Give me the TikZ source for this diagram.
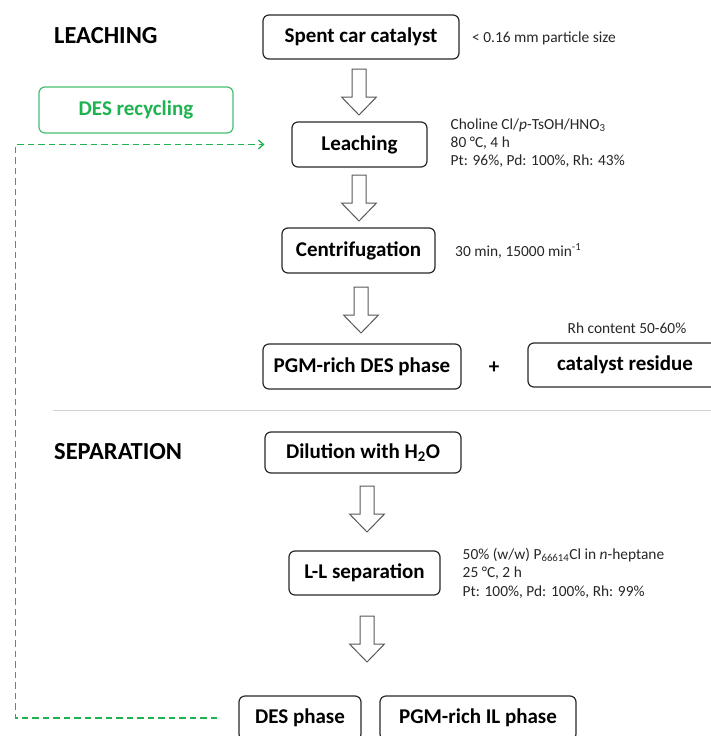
\documentclass[tikz,border=0pt]{standalone}
\usepackage{fontspec}
\setmainfont{Carlito}
\usetikzlibrary{arrows.meta,calc}

\definecolor{desgreen}{RGB}{30,178,80}
\definecolor{desframe}{RGB}{70,190,110}
\definecolor{inkgray}{RGB}{40,40,40}

\begin{document}
\begin{tikzpicture}[x=1pt,y=-1pt,
  stepbox/.style={draw=inkgray, line width=1.2pt, rounded corners=6pt,
    inner sep=0pt, text=black, font=\fontsize{21}{25}\selectfont\bfseries},
  greenbox/.style={stepbox, draw=desframe, text=desgreen},
  heading/.style={anchor=west, inner sep=0pt, font=\fontsize{24.5}{28}\selectfont\bfseries},
  note/.style={anchor=west, inner sep=0pt, align=left, text=black!85,
    font=\fontsize{15.4}{18.3}\selectfont},
  arrowline/.style={draw=black!65, line width=1pt, fill=white, line join=miter},
  recycle/.style={draw=desgreen, line width=1.5pt, dash pattern=on 6.5pt off 4pt,
    -{Straight Barb[length=5pt,width=9pt,line width=1.3pt]}},
  downarrow/.pic={
    \path[arrowline] (-7,0) -- (-7,28) -- (-17.5,28) -- (0,46) -- (17.5,28)
      -- (7,28) -- (7,0) -- cycle;}
]
\useasboundingbox (0,0) rectangle (711,736);

% ---- leaching stage ----
\node[heading] (hleach) at (54,36) {LEACHING};
\node[stepbox, minimum width=196, minimum height=44] (spent) at (361,37) {Spent car catalyst};
\node[note] (nspent) at (472,38) {< 0.16 mm particle size};

\node[greenbox, minimum width=194, minimum height=46] (recyc) at (136,110) {DES recycling};

\node[stepbox, minimum width=135, minimum height=45] (leach) at (359.5,144.5) {Leaching};
\node[note] (nleach) at (450.5,143.3)
  {Choline Cl/\textit{p}-TsOH/HNO\textsubscript{3}\\80 °C, 4 h\\Pt: 96\%, Pd: 100\%, Rh: 43\%};

\node[stepbox, minimum width=153, minimum height=45] (centri) at (358.5,250.5) {Centrifugation};
\node[note] (ncentri) at (455,251) {30 min, 15000 min\textsuperscript{-1}};

\node[stepbox, minimum width=198, minimum height=45] (pgmdes) at (362,366.5) {PGM-rich DES phase};
\node[inner sep=0pt, font=\fontsize{21}{25}\selectfont\bfseries] (plus) at (494,368) {+};
\node[stepbox, minimum width=194, minimum height=44] (resid) at (625,365) {catalyst residue};
\node[note, anchor=center] (nresid) at (627,328) {Rh content 50-60\%};

\pic at (359,69) {downarrow};
\pic at (359,175) {downarrow};
\pic at (361,287) {downarrow};

% ---- divider ----
\coordinate (divl) at (53,410.5);
\coordinate (divr) at (711,410.5);
\draw[black!18, line width=1.6pt] (divl) -- (divr);

% ---- separation stage ----
\node[heading] (hsep) at (54,452) {SEPARATION};
\node[stepbox, minimum width=196, minimum height=41] (dilute) at (363,452.5) {Dilution with H\textsubscript{2}O};

\node[stepbox, minimum width=151, minimum height=44] (llsep) at (364.5,573) {L-L separation};
\node[note] (nllsep) at (462.5,573.3)
  {50\% (w/w) P\textsubscript{66614}Cl in \textit{n}-heptane\\25 °C, 2 h\\Pt: 100\%, Pd: 100\%, Rh: 99\%};

\node[stepbox, minimum width=122, minimum height=44] (desph) at (300,718) {DES phase};
\node[stepbox, minimum width=196, minimum height=44] (ilph) at (478,718) {PGM-rich IL phase};

\pic at (367,486) {downarrow};
\pic at (367,616) {downarrow};

% ---- DES recycle loop ----
\coordinate (dstart) at ([xshift=-21pt]desph.west);
\coordinate (dend) at ([xshift=-27pt]leach.west);
\coordinate (rail) at (15.5,430);
\draw[recycle] (dstart) -| (rail) |- (dend);
\end{tikzpicture}
\end{document}
